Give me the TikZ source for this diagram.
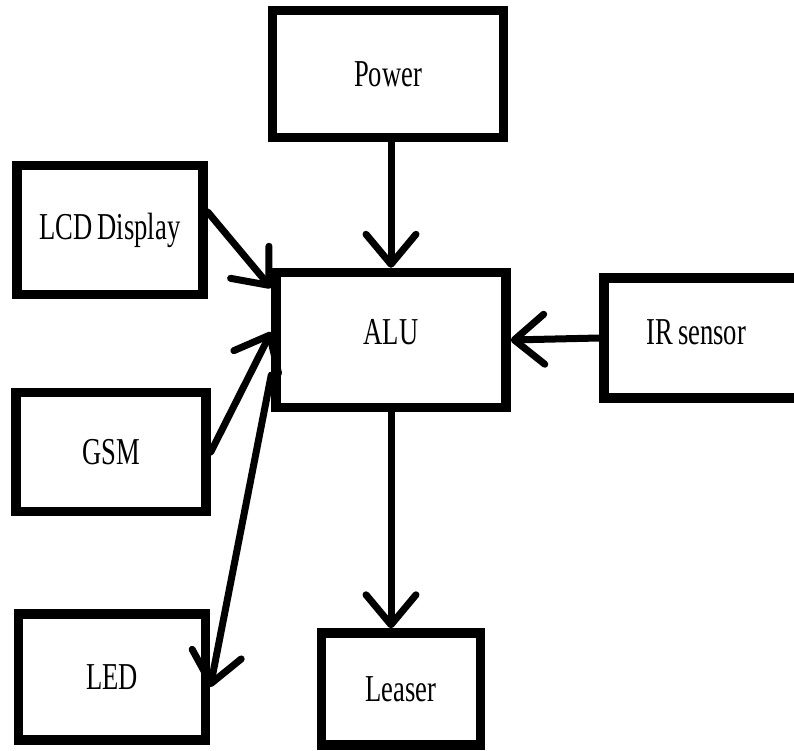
\documentclass[tikz,border=0pt]{standalone}
\usepackage{fontspec}
\setmainfont{Liberation Serif}[FakeStretch=0.7,WordSpace=0.7]
\usetikzlibrary{arrows.meta}

\begin{document}
\begin{tikzpicture}[x=1pt,y=-1pt,font=\fontsize{38}{40}\selectfont,
  blk/.style={draw, rectangle, line width=9.5pt, inner sep=0pt},
  conn/.style={line width=7pt, line cap=round,
    -{Straight Barb[length=30pt,width=50pt,line cap=round,line join=round]}}]
  \clip (0,0) rectangle (794,750);

  % blocks
  \node[blk, minimum width=231, minimum height=127] (power) at (388,74) {Power};
  \node[blk, minimum width=186, minimum height=129] (lcd) at (110,230) {LCD Display};
  \node[blk, minimum width=230, minimum height=135, text depth=16pt] (alu) at (391,340) {ALU};
  \node[blk, anchor=west, minimum width=246, minimum height=120, text width=160,
    align=flush left, inner xsep=43, text depth=12pt] (ir) at (599,338) {IR sensor};
  \node[blk, minimum width=190, minimum height=119] (gsm) at (111,452) {GSM};
  \node[blk, minimum width=187, minimum height=126] (led) at (112,677) {LED};
  \node[blk, minimum width=159, minimum height=112] (leaser) at (401,689) {Leaser};

  % connections
  \draw[conn] (power.south -| alu.north) -- (alu.north);
  \draw[conn] ([yshift=18pt]lcd.east) -- ([yshift=52pt]alu.west);
  \draw[conn] (gsm.east) -- ([yshift=8pt]alu.west);
  \draw[conn] ([yshift=-35pt]alu.west) -- ([yshift=-10pt]led.east);
  \draw[conn] (ir.west) -- (alu.east);
  \draw[conn] (alu.south) -- (alu.south |- leaser.north);
\end{tikzpicture}
\end{document}
